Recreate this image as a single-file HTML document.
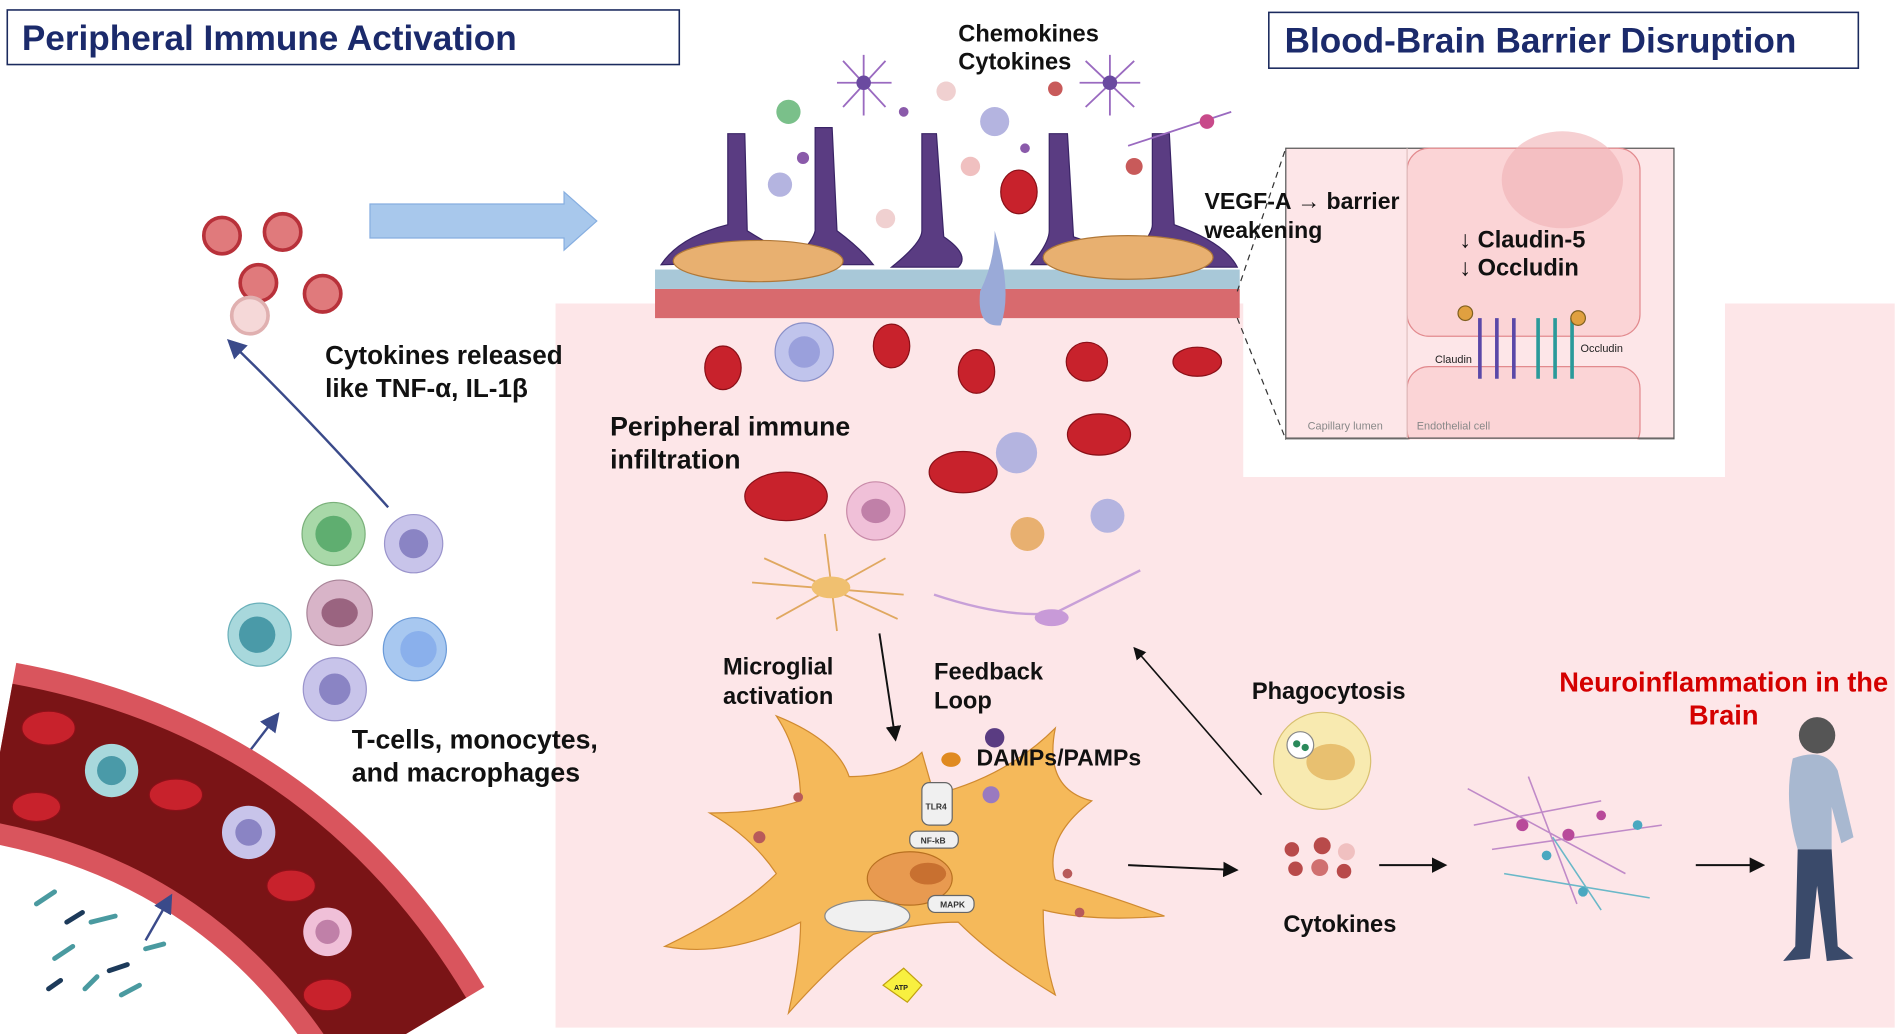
<!DOCTYPE html>
<html><head><meta charset="utf-8"><style>
html,body{margin:0;padding:0;background:#fff;}
svg{display:block;}
text{font-family:"Liberation Sans",Arial,sans-serif;font-weight:bold;}
</style></head><body>
<svg width="1902" height="1034" viewBox="0 0 1568 852" xmlns="http://www.w3.org/2000/svg">
<defs>
<marker id="ah" markerWidth="8" markerHeight="8" refX="6" refY="4" orient="auto"><path d="M0,0 L8,4 L0,8 z" fill="#111"/></marker>
<marker id="ahb" markerWidth="8" markerHeight="8" refX="6" refY="4" orient="auto"><path d="M0,0 L8,4 L0,8 z" fill="#3a4a8a"/></marker>
</defs>
<rect width="1568" height="852" fill="#fff"/>
<path d="M458,250 L1025,250 L1025,393 L1422,393 L1422,250 L1562,250 L1562,847 L458,847 z" fill="#fde6e8"/>
<rect x="6" y="8" width="554" height="45" fill="#fff" stroke="#1b2a5e" stroke-width="1.3"/>
<text x="18" y="41" font-size="29" fill="#1b2a6b">Peripheral Immune Activation</text>
<rect x="1046" y="10" width="486" height="46" fill="#fff" stroke="#1b2a5e" stroke-width="1.3"/>
<text x="1059" y="43" font-size="29" fill="#1b2a6b">Blood-Brain Barrier Disruption</text>
<path d="M305,168 L465,168 L465,158 L492,182 L465,206 L465,196 L305,196 z" fill="#a8c8ec" stroke="#86aee0"/>
<g stroke="#b8313a" stroke-width="3" fill="#e07a7c">
<circle cx="183" cy="194" r="15"/><circle cx="233" cy="191" r="15"/><circle cx="213" cy="233" r="15"/><circle cx="266" cy="242" r="15"/>
<circle cx="206" cy="260" r="15" fill="#f5d8d8" stroke="#e0b0b0"/></g>
<path d="M320,418 Q250,340 190,282" fill="none" stroke="#3a4a8a" stroke-width="2" marker-end="url(#ahb)"/>
<text x="268" y="300" font-size="21.5" fill="#111">Cytokines released</text>
<text x="268" y="327" font-size="21.5" fill="#111">like TNF-α, IL-1β</text>
<circle cx="275" cy="440" r="26" fill="#a8d8a8" stroke="#7ab07a"/><circle cx="275" cy="440" r="15" fill="#5fae70"/>
<circle cx="341" cy="448" r="24" fill="#c8c4ea" stroke="#9a94cc"/><circle cx="341" cy="448" r="12" fill="#8a84c4"/>
<circle cx="214" cy="523" r="26" fill="#a8d8dc" stroke="#6ab0ba"/><circle cx="212" cy="523" r="15" fill="#4a9aa8"/>
<circle cx="280" cy="505" r="27" fill="#d8b4c8" stroke="#a88498"/><ellipse cx="280" cy="505" rx="15" ry="12" fill="#9a6480"/>
<circle cx="342" cy="535" r="26" fill="#a8c8f0" stroke="#6a9ad8"/><circle cx="345" cy="535" r="15" fill="#8ab0ec"/>
<circle cx="276" cy="568" r="26" fill="#c8c4ea" stroke="#9a94cc"/><circle cx="276" cy="568" r="13" fill="#8a84c4"/>
<text x="290" y="617" font-size="22" fill="#111">T-cells, monocytes,</text>
<text x="290" y="644" font-size="22" fill="#111">and macrophages</text>
<line x1="205" y1="620" x2="228" y2="590" stroke="#3a4a8a" stroke-width="2" marker-end="url(#ahb)"/>
<path d="M0,620 Q220,660 335,852" fill="none" stroke="#d9555d" stroke-width="150"/>
<path d="M0,620 Q220,660 335,852" fill="none" stroke="#7a1416" stroke-width="115"/>
<g fill="#c8222c" stroke="#8a1018"><ellipse cx="40" cy="600" rx="22" ry="14"/><ellipse cx="145" cy="655" rx="22" ry="13"/><ellipse cx="240" cy="730" rx="20" ry="13"/><ellipse cx="270" cy="820" rx="20" ry="13"/><ellipse cx="30" cy="665" rx="20" ry="12"/></g>
<circle cx="92" cy="635" r="22" fill="#a8d8dc"/><circle cx="92" cy="635" r="12" fill="#4a9aa8"/>
<circle cx="205" cy="686" r="22" fill="#c8c4ea"/><circle cx="205" cy="686" r="11" fill="#8a84c4"/>
<circle cx="270" cy="768" r="20" fill="#f0c0d8"/><circle cx="270" cy="768" r="10" fill="#c080a8"/>
<g stroke="#4a9aa0" stroke-width="4" stroke-linecap="round"><line x1="30" y1="745" x2="45" y2="735"/><line x1="75" y1="760" x2="95" y2="755"/><line x1="45" y1="790" x2="60" y2="780"/><line x1="120" y1="782" x2="135" y2="778"/><line x1="70" y1="815" x2="80" y2="805"/><line x1="100" y1="820" x2="115" y2="812"/></g>
<g stroke="#1c3a5a" stroke-width="4" stroke-linecap="round"><line x1="55" y1="760" x2="68" y2="752"/><line x1="90" y1="800" x2="105" y2="795"/><line x1="40" y1="815" x2="50" y2="808"/></g>
<line x1="120" y1="775" x2="140" y2="740" stroke="#3a4a8a" stroke-width="2" marker-end="url(#ahb)"/>
<rect x="540" y="222" width="482" height="16" fill="#a8c8d8"/>
<path d="M540,238 L1022,238 L1022,262 L540,262 z" fill="#d86a6e"/>
<g fill="#5a3c82" stroke="#3a2466">
<path d="M600,110 L614,110 L616,190 Q640,205 660,215 L545,218 Q560,195 600,185 z"/>
<path d="M672,105 L686,105 L690,190 Q710,205 720,218 L650,218 Q670,200 672,190 z"/>
<path d="M760,110 L772,110 L778,195 Q800,210 790,220 L735,220 Q760,200 760,190 z"/>
<path d="M865,110 L880,110 L885,195 Q930,210 935,218 L850,218 Q865,200 865,190 z"/>
<path d="M950,110 L964,110 L968,185 Q1010,200 1020,220 L925,220 Q950,195 950,185 z"/></g>
<g fill="#e8b070" stroke="#b07838"><ellipse cx="625" cy="215" rx="70" ry="17"/><ellipse cx="930" cy="212" rx="70" ry="18"/></g>
<path d="M820,190 Q835,240 825,268 Q805,270 808,240 Q820,215 820,190 z" fill="#9aaad8"/>
<text x="790" y="34" font-size="19.5" fill="#111">Chemokines</text>
<text x="790" y="57" font-size="19.5" fill="#111">Cytokines</text>
<g fill="#b86a8a"><circle cx="780" cy="75" r="8" fill="#f0d0d0"/><circle cx="870" cy="73" r="6" fill="#c85a5a"/><circle cx="800" cy="137" r="8" fill="#f0c0c0"/><circle cx="730" cy="180" r="8" fill="#f0d0d0"/><circle cx="935" cy="137" r="7" fill="#c85a5a"/><circle cx="662" cy="130" r="5" fill="#8a5aaa"/><circle cx="745" cy="92" r="4" fill="#8a5aaa"/><circle cx="845" cy="122" r="4" fill="#8a5aaa"/></g>
<circle cx="650" cy="92" r="10" fill="#7ac08a"/>
<ellipse cx="840" cy="158" rx="15" ry="18" fill="#c8222c" stroke="#8a1018"/>
<g stroke="#9a6ac0" stroke-width="1.5" fill="none"><path d="M690,68 L735,68 M712,45 L712,95 M695,50 L730,88 M730,50 L695,88"/><path d="M890,68 L940,68 M915,45 L915,95 M895,50 L935,88 M935,50 L895,88"/><path d="M930,120 L1015,92"/></g>
<circle cx="712" cy="68" r="6" fill="#6a4aa0"/><circle cx="915" cy="68" r="6" fill="#6a4aa0"/><circle cx="995" cy="100" r="6" fill="#c84a8a"/>
<circle cx="820" cy="100" r="12" fill="#b4b4e0"/><circle cx="643" cy="152" r="10" fill="#b4b4e0"/>
<g fill="#c8222c" stroke="#8a1018"><ellipse cx="596" cy="303" rx="15" ry="18"/><ellipse cx="735" cy="285" rx="15" ry="18"/><ellipse cx="805" cy="306" rx="15" ry="18"/><ellipse cx="896" cy="298" rx="17" ry="16"/><ellipse cx="987" cy="298" rx="20" ry="12"/><ellipse cx="648" cy="409" rx="34" ry="20"/><ellipse cx="794" cy="389" rx="28" ry="17"/><ellipse cx="906" cy="358" rx="26" ry="17"/></g>
<circle cx="663" cy="290" r="24" fill="#c0c4ec" stroke="#8a90c8"/><circle cx="663" cy="290" r="13" fill="#9aa0dc"/>
<circle cx="722" cy="421" r="24" fill="#f0c0d8" stroke="#c88aa8"/><ellipse cx="722" cy="421" rx="12" ry="10" fill="#c080a8"/>
<circle cx="838" cy="373" r="17" fill="#b4b4e0"/><circle cx="913" cy="425" r="14" fill="#b4b4e0"/>
<circle cx="847" cy="440" r="14" fill="#e8b070"/>
<text x="503" y="359" font-size="22" fill="#111">Peripheral immune</text>
<text x="503" y="386" font-size="22" fill="#111">infiltration</text>
<g stroke="#e0a860" stroke-width="1.5" fill="none"><path d="M620,480 L745,490 M680,440 L690,520 M630,460 L740,510 M640,510 L730,460"/></g>
<ellipse cx="685" cy="484" rx="16" ry="9" fill="#f0c070"/>
<path d="M770,490 Q830,510 870,505 Q900,490 940,470" fill="none" stroke="#c8a0d8" stroke-width="2"/>
<ellipse cx="867" cy="509" rx="14" ry="7" fill="#c89ad8"/>
<rect x="1025" y="115" width="397" height="278" fill="#fff"/>
<rect x="1060" y="122" width="320" height="240" fill="#fde6e8" stroke="#555"/>
<rect x="1160" y="122" width="192" height="155" rx="18" fill="#fbd4d6" stroke="#e28a8e"/>
<rect x="1160" y="302" width="192" height="70" rx="18" fill="#fbd4d6" stroke="#e28a8e"/>
<rect x="1060" y="362" width="330" height="30" fill="#fff"/>
<line x1="1060" y1="361" x2="1380" y2="361" stroke="#555"/>
<ellipse cx="1288" cy="148" rx="50" ry="40" fill="#f0b0b4" opacity="0.6"/>
<line x1="1160" y1="122" x2="1160" y2="361" stroke="#e0c0c0"/>
<path d="M1220,262 L1220,312 M1234,262 L1234,312 M1248,262 L1248,312" stroke="#5a48a8" stroke-width="3" fill="none"/>
<path d="M1268,262 L1268,312 M1282,262 L1282,312 M1296,262 L1296,312" stroke="#2a9a9a" stroke-width="3" fill="none"/>
<circle cx="1208" cy="258" r="6" fill="#e0a040" stroke="#806020"/><circle cx="1301" cy="262" r="6" fill="#e0a040" stroke="#806020"/>
<text x="1183" y="299" font-size="9" fill="#222" style="font-weight:normal">Claudin</text>
<text x="1303" y="290" font-size="9" fill="#222" style="font-weight:normal">Occludin</text>
<text x="1078" y="354" font-size="9" fill="#888" style="font-weight:normal">Capillary lumen</text>
<text x="1168" y="354" font-size="9" fill="#888" style="font-weight:normal">Endothelial cell</text>
<text x="1203" y="204" font-size="19.5" fill="#111">↓ Claudin-5</text>
<text x="1203" y="227" font-size="19.5" fill="#111">↓ Occludin</text>
<text x="993" y="172" font-size="19" fill="#111">VEGF-A → barrier</text>
<text x="993" y="196" font-size="19" fill="#111">weakening</text>
<g stroke="#333" stroke-dasharray="5,4"><line x1="1020" y1="240" x2="1060" y2="122"/><line x1="1020" y1="262" x2="1060" y2="362"/></g>
<path d="M640,590 Q690,610 700,640 Q740,640 760,620 L770,655 Q830,640 870,600 Q860,650 900,660 Q860,690 870,725 Q920,740 960,755 Q900,760 860,750 Q860,790 870,820 Q820,790 790,760 Q760,760 720,770 Q690,790 650,835 Q660,790 660,760 Q600,790 548,780 Q610,750 640,720 Q620,690 585,670 Q630,670 660,660 Q660,620 640,590 z" fill="#f5b95a" stroke="#d08a30"/>
<ellipse cx="750" cy="724" rx="35" ry="22" fill="#e89a50" stroke="#b87020"/><ellipse cx="765" cy="720" rx="15" ry="9" fill="#c87030"/>
<ellipse cx="715" cy="755" rx="35" ry="13" fill="#f0f0f0" stroke="#888"/>
<rect x="760" y="645" width="25" height="35" rx="6" fill="#f0f0f0" stroke="#666"/><text x="763" y="667" font-size="7" fill="#333">TLR4</text>
<rect x="750" y="685" width="40" height="14" rx="6" fill="#f0f0f0" stroke="#666"/><text x="759" y="695" font-size="7" fill="#333">NF-kB</text>
<rect x="765" y="738" width="38" height="14" rx="6" fill="#f0f0f0" stroke="#666"/><text x="775" y="748" font-size="7" fill="#333">MAPK</text>
<path d="M728,812 L745,798 L760,812 L748,826 z" fill="#f8f040" stroke="#c0a010"/><text x="737" y="816" font-size="6" fill="#222">ATP</text>
<g fill="#b85a5a"><circle cx="658" cy="657" r="4"/><circle cx="626" cy="690" r="5"/><circle cx="880" cy="720" r="4"/><circle cx="890" cy="752" r="4"/></g>
<ellipse cx="784" cy="626" rx="8" ry="6" fill="#e08a20"/><circle cx="820" cy="608" r="8" fill="#5a3c82"/><circle cx="817" cy="655" r="7" fill="#9a7ac0"/>
<text x="596" y="556" font-size="19.5" fill="#111">Microglial</text>
<text x="596" y="580" font-size="19.5" fill="#111">activation</text>
<text x="770" y="560" font-size="19.5" fill="#111">Feedback</text>
<text x="770" y="584" font-size="19.5" fill="#111">Loop</text>
<text x="805" y="631" font-size="19" fill="#111">DAMPs/PAMPs</text>
<line x1="725" y1="522" x2="738" y2="608" stroke="#111" stroke-width="1.6" marker-end="url(#ah)"/>
<line x1="1040" y1="655" x2="936" y2="535" stroke="#111" stroke-width="1.3" marker-end="url(#ah)"/>
<line x1="930" y1="713" x2="1018" y2="717" stroke="#111" stroke-width="1.6" marker-end="url(#ah)"/>
<line x1="1137" y1="713" x2="1190" y2="713" stroke="#111" stroke-width="1.6" marker-end="url(#ah)"/>
<line x1="1398" y1="713" x2="1452" y2="713" stroke="#111" stroke-width="1.6" marker-end="url(#ah)"/>
<circle cx="1090" cy="627" r="40" fill="#f8eab0" stroke="#d8c070"/><ellipse cx="1097" cy="628" rx="20" ry="15" fill="#e8c070"/>
<circle cx="1072" cy="614" r="11" fill="#fff" stroke="#888"/><circle cx="1069" cy="613" r="3" fill="#2a8a5a"/><circle cx="1076" cy="616" r="3" fill="#2a8a5a"/>
<text x="1032" y="576" font-size="19.5" fill="#111">Phagocytosis</text>
<g fill="#b84a4a"><circle cx="1065" cy="700" r="6"/><circle cx="1090" cy="697" r="7"/><circle cx="1110" cy="702" r="7" fill="#f0c0c0"/><circle cx="1068" cy="716" r="6"/><circle cx="1088" cy="715" r="7" fill="#d07070"/><circle cx="1108" cy="718" r="6"/></g>
<text x="1058" y="768" font-size="19.5" fill="#111">Cytokines</text>
<g stroke="#c08ac8" stroke-width="1.3" fill="none"><path d="M1210,650 L1340,720 M1230,700 L1370,680 M1260,640 L1300,745 M1215,680 L1320,660"/></g>
<g stroke="#6ab8c8" stroke-width="1.3" fill="none"><path d="M1240,720 L1360,740 M1280,690 L1320,750"/></g>
<g fill="#b84a9a"><circle cx="1255" cy="680" r="5"/><circle cx="1293" cy="688" r="5"/><circle cx="1320" cy="672" r="4"/></g>
<g fill="#4aa8c0"><circle cx="1275" cy="705" r="4"/><circle cx="1305" cy="735" r="4"/><circle cx="1350" cy="680" r="4"/></g>
<text x="1421" y="570" font-size="22.5" fill="#d40000" text-anchor="middle">Neuroinflammation in the</text>
<text x="1421" y="597" font-size="22.5" fill="#d40000" text-anchor="middle">Brain</text>
<circle cx="1498" cy="606" r="15" fill="#555"/>
<path d="M1478,625 Q1505,615 1515,635 L1528,690 L1518,695 L1510,665 L1510,700 L1482,700 Q1470,660 1478,625 z" fill="#a8b8d0"/>
<path d="M1482,700 L1510,700 L1515,780 L1528,790 L1506,792 L1498,730 L1492,790 L1470,792 L1480,780 z" fill="#3a4a6a"/>
</svg>
</body></html>
